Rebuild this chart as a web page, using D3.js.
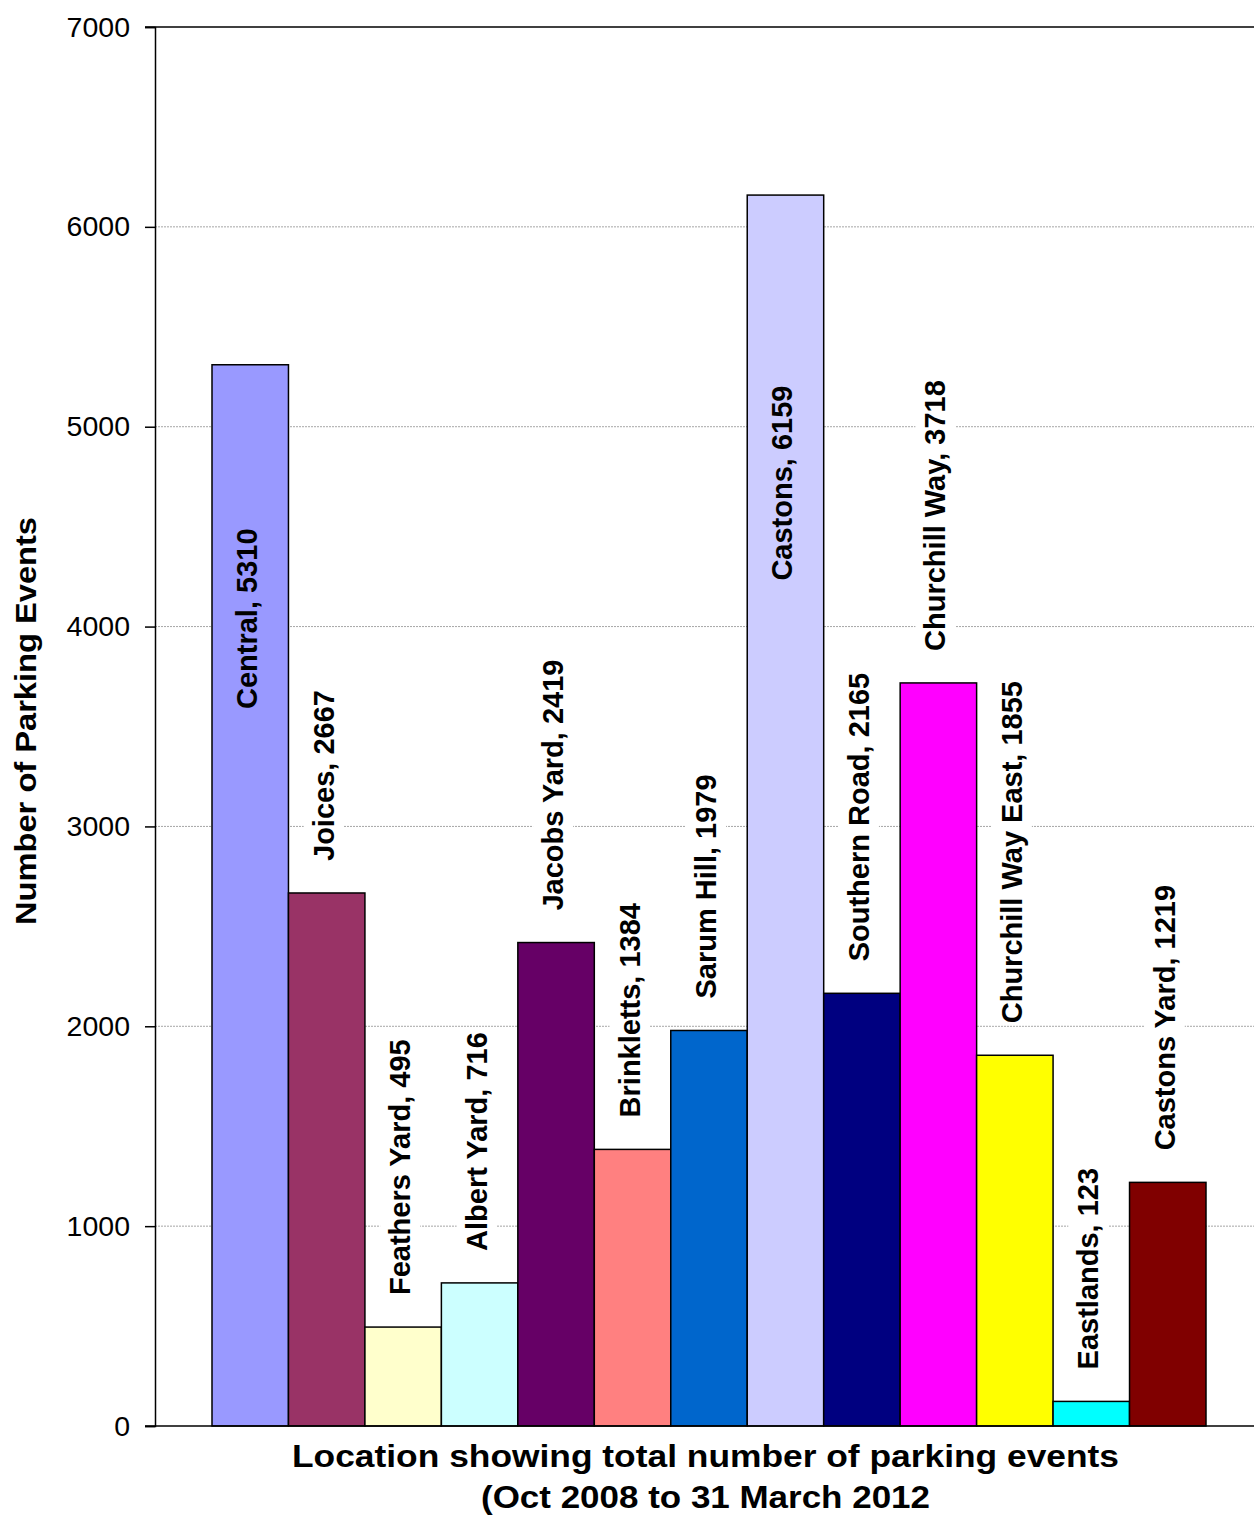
<!DOCTYPE html>
<html>
<head>
<meta charset="utf-8">
<script src="https://cdn.jsdelivr.net/npm/d3@7"></script>
<style>
  html, body { margin: 0; padding: 0; background: #fff; }
  svg { display: block; font-family: "Liberation Sans", Arial, sans-serif; }
</style>
</head>
<body>
<svg id="chart" width="1254" height="1515"></svg>
<script>
// ---- Data ----
const categories = ["Central", "Joices", "Feathers Yard", "Albert Yard", "Jacobs Yard", "Brinkletts",
  "Sarum Hill", "Castons", "Southern Road", "Churchill Way", "Churchill Way East", "Eastlands", "Castons Yard"];
const values = [5310, 2667, 495, 716, 2419, 1384, 1979, 6159, 2165, 3718, 1855, 123, 1219];
const colors = ["#9999FF", "#993366", "#FFFFCC", "#CCFFFF", "#660066", "#FF8080",
  "#0066CC", "#CCCCFF", "#000080", "#FF00FF", "#FFFF00", "#00FFFF", "#800000"];
const yTicks = [0, 1000, 2000, 3000, 4000, 5000, 6000, 7000];
const yTitle = "Number of Parking Events";
const xTitleLines = ["Location showing total number of parking events", "(Oct 2008 to 31 March 2012"];

// ---- Layout ----
const plot = { left: 155, top: 27, bottom: 1426, right: 1263 };
const barsLeft = 212, barsRight = 1206;
// labels positioned inside bars (offset below bar top, px)
const insideLabels = { "Central": 254, "Castons": 288 };

const svg = d3.select("#chart");

const y = d3.scaleLinear().domain([0, 7000]).range([plot.bottom, plot.top]);
const x = d3.scaleBand().domain(categories).range([barsLeft, barsRight]).padding(0);

// gridlines
svg.append("g").selectAll("line").data(yTicks.filter(t => t > 0 && t < 7000)).join("line")
  .attr("x1", plot.left).attr("x2", plot.right)
  .attr("y1", d => y(d)).attr("y2", d => y(d))
  .attr("stroke", "#a6a6a6").attr("stroke-width", 1).attr("stroke-dasharray", "2,1");

// bars
const data = categories.map((c, i) => ({ name: c, value: values[i], color: colors[i] }));
svg.append("g").selectAll("rect").data(data).join("rect")
  .attr("x", d => x(d.name)).attr("width", x.bandwidth())
  .attr("y", d => y(d.value)).attr("height", d => y(0) - y(d.value))
  .attr("fill", d => d.color).attr("stroke", "#000").attr("stroke-width", 1.5);

// plot border (top)
svg.append("line").attr("x1", plot.left - 10).attr("x2", plot.right)
  .attr("y1", plot.top).attr("y2", plot.top).attr("stroke", "#000").attr("stroke-width", 1.5);

// y axis
const yAxis = d3.axisLeft(y).tickValues(yTicks).tickSize(10).tickPadding(15).tickFormat(d3.format("d"));
const gy = svg.append("g").attr("transform", `translate(${plot.left},0)`).call(yAxis);
gy.select(".domain").attr("stroke", "#000").attr("stroke-width", 1.5);
gy.selectAll(".tick line").attr("stroke", "#000").attr("stroke-width", 1.5);
gy.selectAll(".tick text").attr("font-size", 28.5).attr("fill", "#000")
  .attr("font-family", "Liberation Sans, Arial, sans-serif");

// x axis line
svg.append("line").attr("x1", plot.left - 10).attr("x2", plot.right)
  .attr("y1", plot.bottom).attr("y2", plot.bottom).attr("stroke", "#000").attr("stroke-width", 1.5);

// data labels
const lg = svg.append("g");
data.forEach(d => {
  const cx = x(d.name) + x.bandwidth() / 2 - 3;
  const label = `${d.name}, ${d.value}`;
  const inside = insideLabels[d.name] !== undefined;
  const g = lg.append("g");
  const t = g.append("text")
    .attr("font-size", 29).attr("font-weight", "bold").attr("fill", "#000")
    .attr("dominant-baseline", "central")
    .text(label);
  let ty, anchor;
  if (inside) {
    ty = y(d.value) + insideLabels[d.name];
    anchor = "middle";
  } else {
    ty = y(d.value) - 32;
    anchor = "start";
  }
  t.attr("text-anchor", anchor).attr("transform", `translate(${cx},${ty}) rotate(-90)`);
  if (!inside) {
    const bb = t.node().getBBox();
    g.insert("rect", "text")
      .attr("x", bb.x - 2).attr("y", bb.y - 4).attr("width", bb.width + 4).attr("height", bb.height + 8)
      .attr("transform", `translate(${cx},${ty}) rotate(-90)`)
      .attr("fill", "#fff");
  }
});

// y title
svg.append("text")
  .attr("transform", `translate(36,${(517 + 925) / 2}) rotate(-90)`)
  .attr("text-anchor", "middle").attr("font-size", 30).attr("font-weight", "bold")
  .attr("textLength", 408).attr("lengthAdjust", "spacingAndGlyphs")
  .text(yTitle);

// x title
const xt = [[1467, 827], [1508, 449]];
xTitleLines.forEach((line, i) => {
  svg.append("text")
    .attr("x", 705.5).attr("y", xt[i][0])
    .attr("text-anchor", "middle").attr("font-size", 31).attr("font-weight", "bold")
    .attr("textLength", xt[i][1]).attr("lengthAdjust", "spacingAndGlyphs")
    .text(line);
});
</script>
</body>
</html>
